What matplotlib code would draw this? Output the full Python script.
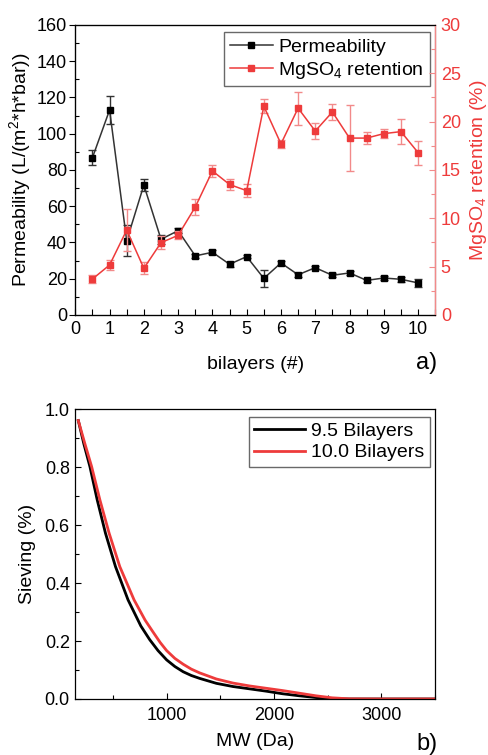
import matplotlib
matplotlib.use("Agg")
import matplotlib.pyplot as plt
from matplotlib.ticker import MultipleLocator, FormatStrFormatter

plt.rcParams['font.family'] = ['Liberation Sans', 'DejaVu Sans']
plt.rcParams['mathtext.fontset'] = 'custom'
plt.rcParams['mathtext.rm'] = 'Liberation Sans'
plt.rcParams['mathtext.it'] = 'Liberation Sans'

# ---- data panel a ----
bilayers = [0.5, 1, 1.5, 2, 2.5, 3, 3.5, 4, 4.5, 5, 5.5, 6, 6.5, 7, 7.5, 8, 8.5, 9, 9.5, 10]
permeability = [86.8, 113.1, 41.0, 71.7, 41.8, 46.5, 32.6, 34.6, 28.0, 32.2,
                20.2, 28.7, 22.2, 26.1, 21.9, 23.2, 19.1, 20.4, 19.7, 17.7]
perm_err = [4.0, 7.5, 8.5, 3.5, 2.5, 1.5, 1.0, 1.0, 1.5, 1.0,
            4.5, 1.0, 1.0, 1.0, 1.0, 1.0, 1.0, 1.0, 1.5, 2.0]
retention = [3.72, 5.17, 8.79, 4.83, 7.48, 8.24, 11.17, 14.9, 13.5, 12.86,
             21.6, 17.7, 21.4, 19.03, 21.0, 18.3, 18.3, 18.76, 18.97, 16.8]
ret_err = [0.4, 0.5, 2.2, 0.6, 0.7, 0.4, 0.8, 0.6, 0.55, 0.65,
           0.7, 0.45, 1.7, 0.8, 0.8, 3.4, 0.6, 0.45, 1.3, 1.25]

# ---- data panel b ----
mw_95 = [178, 230, 286, 354, 431, 524, 641, 760, 842, 920, 1000, 1077, 1154, 1230, 1308,
         1463, 1617, 1772, 1926, 2080, 2235, 2389, 2540, 2700, 3000, 3500]
siev_95 = [0.961, 0.880, 0.802, 0.687, 0.572, 0.457, 0.342, 0.252, 0.205, 0.167, 0.135,
           0.112, 0.094, 0.081, 0.071, 0.054, 0.043, 0.035, 0.027, 0.018, 0.011, 0.005,
           0.001, 0.0, 0.0, 0.0]
mw_100 = [178, 240, 302, 379, 465, 564, 697, 800, 872, 940, 1000, 1077, 1154, 1230, 1308,
          1463, 1617, 1772, 1926, 2080, 2235, 2389, 2540, 2700, 3000, 3500]
siev_100 = [0.961, 0.880, 0.802, 0.687, 0.572, 0.457, 0.342, 0.272, 0.232, 0.195, 0.167,
            0.140, 0.120, 0.103, 0.090, 0.069, 0.055, 0.045, 0.037, 0.029, 0.020, 0.011,
            0.004, 0.0005, 0.0, 0.0]

RED = '#EE3B3B'
RED_LIGHT = '#F28A8A'
FS_T = 13
FS_L = 14

fig = plt.figure(figsize=(4.89, 7.55), dpi=100)

# ================= panel a =================
ax = fig.add_axes([0.154, 0.5828, 0.736, 0.3841])
ax2 = ax.twinx()

l1 = ax.errorbar(bilayers, permeability, yerr=perm_err, color='#333333', marker='s',
                 markersize=4.8, markerfacecolor='black', markeredgecolor='black',
                 lw=1.1, ecolor='#333333', elinewidth=1.0, capsize=3, zorder=3)
l2 = ax2.errorbar(bilayers, retention, yerr=ret_err, color=RED, marker='s',
                  markersize=4.8, lw=1.1, ecolor=RED_LIGHT, elinewidth=1.0, capsize=3,
                  zorder=3)

ax.set_xlim(0, 10.5)
ax.set_ylim(0, 160)
ax2.set_ylim(0, 30)
ax.xaxis.set_major_locator(MultipleLocator(1))
ax.xaxis.set_minor_locator(MultipleLocator(0.5))
ax.yaxis.set_major_locator(MultipleLocator(20))
ax.yaxis.set_minor_locator(MultipleLocator(10))
ax2.yaxis.set_major_locator(MultipleLocator(5))
ax2.yaxis.set_minor_locator(MultipleLocator(2.5))

ax.tick_params(axis='x', which='both', direction='in', length=4, width=0.8, labelsize=FS_T, pad=4)
ax.tick_params(axis='y', which='major', direction='out', length=4, width=0.8, labelsize=FS_T, pad=2)
ax.tick_params(axis='y', which='minor', direction='in', length=3, width=0.8)
ax2.tick_params(axis='y', which='both', direction='in', length=4, width=0.8, colors=RED_LIGHT,
                labelcolor=RED, labelsize=FS_T, pad=4)
ax2.tick_params(axis='y', which='minor', length=3)
ax2.spines['right'].set_color(RED_LIGHT)
for s in ['left', 'top', 'bottom']:
    ax.spines[s].set_linewidth(0.9)
ax2.spines['right'].set_linewidth(1.0)

ax.set_ylabel('Permeability (L/(m$^2$*h*bar))', fontsize=FS_L, labelpad=3)
ax2.set_ylabel('MgSO$_4$ retention (%)', fontsize=FS_L, color=RED, labelpad=5)
ax.set_xlabel('bilayers (#)', fontsize=FS_L, labelpad=13)

leg = ax.legend([l1[0], l2[0]], ['Permeability', 'MgSO$_4$ retention'], loc='upper right',
                bbox_to_anchor=(0.985, 0.975), fontsize=FS_L, frameon=True, fancybox=False,
                edgecolor='#444444', handlelength=2.2, handletextpad=0.3, borderpad=0.3,
                labelspacing=0.2, borderaxespad=0, numpoints=1)
leg.get_frame().set_linewidth(1.0)
leg.set_zorder(10)

fig.text(0.873, 0.519, 'a)', fontsize=17, ha='center', va='center')

# ================= panel b =================
bx = fig.add_axes([0.154, 0.0742, 0.736, 0.3837])
bx.plot(mw_95, siev_95, color='black', lw=2.0, label='9.5 Bilayers')
bx.plot(mw_100, siev_100, color=RED, lw=2.0, label='10.0 Bilayers')
bx.set_xlim(150, 3500)
bx.set_ylim(0, 1.0)
bx.xaxis.set_major_locator(MultipleLocator(1000))
bx.xaxis.set_minor_locator(MultipleLocator(500))
bx.yaxis.set_major_locator(MultipleLocator(0.2))
bx.yaxis.set_minor_locator(MultipleLocator(0.1))
bx.yaxis.set_major_formatter(FormatStrFormatter('%.1f'))
bx.tick_params(axis='both', which='major', direction='in', length=4, width=0.8, labelsize=FS_T)
bx.tick_params(axis='both', which='minor', direction='in', length=3, width=0.8)
bx.tick_params(axis='x', pad=6)
bx.tick_params(axis='y', pad=4)
for s in bx.spines.values():
    s.set_linewidth(0.9)
bx.set_ylabel('Sieving (%)', fontsize=FS_L, labelpad=6)
bx.set_xlabel('MW (Da)', fontsize=FS_L, labelpad=6)
leg2 = bx.legend(loc='upper right', bbox_to_anchor=(0.985, 0.975), fontsize=FS_L, frameon=True,
                 fancybox=False, edgecolor='#444444', handlelength=2.6, handletextpad=0.3,
                 borderpad=0.3, labelspacing=0.2, borderaxespad=0)
leg2.get_frame().set_linewidth(1.0)

fig.text(0.873, 0.015, 'b)', fontsize=17, ha='center', va='center')

fig.savefig('out.png', dpi=100)
